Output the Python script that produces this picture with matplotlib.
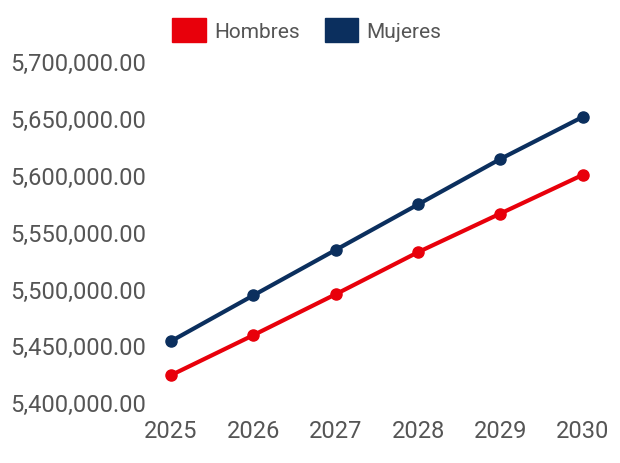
import matplotlib
matplotlib.use("Agg")
import matplotlib.pyplot as plt
from matplotlib.patches import Patch
from matplotlib.ticker import FuncFormatter

plt.rcParams['font.family'] = ['Roboto', 'DejaVu Sans']

years = [2025, 2026, 2027, 2028, 2029, 2030]
hombres = [5423800, 5459000, 5495000, 5532000, 5566000, 5600000]
mujeres = [5453700, 5494000, 5534000, 5574000, 5614000, 5651000]

rojo = '#e8000b'
azul = '#0b2f5e'

fig = plt.figure(figsize=(6.2, 4.64), dpi=100)
ax = fig.add_axes([0.24, 0.131, 0.70, 0.735])

ax.plot(years, hombres, color=rojo, lw=3, marker='o', ms=8, clip_on=False)
ax.plot(years, mujeres, color=azul, lw=3, marker='o', ms=8, clip_on=False)

ax.set_xlim(2024.73, 2030.0)
ax.set_ylim(5400000, 5700000)
ax.set_yticks(range(5400000, 5700001, 50000))
ax.yaxis.set_major_formatter(FuncFormatter(lambda v, p: f"{v:,.2f}"))
ax.set_xticks(years)
for s in ax.spines.values():
    s.set_visible(False)
ax.tick_params(length=0, labelsize=17, colors='#555555')
ax.tick_params(axis='y', pad=2)
ax.tick_params(axis='x', pad=12)

handles = [Patch(color=rojo, label='Hombres'), Patch(color=azul, label='Mujeres')]
fig.legend(handles=handles, loc='upper center', bbox_to_anchor=(0.495, 1.0), ncol=2,
           frameon=False, fontsize=15, labelcolor='#555555', handlelength=1.6,
           handleheight=1.4, handletextpad=0.4, columnspacing=1.2)

fig.savefig('out.png', dpi=100)
